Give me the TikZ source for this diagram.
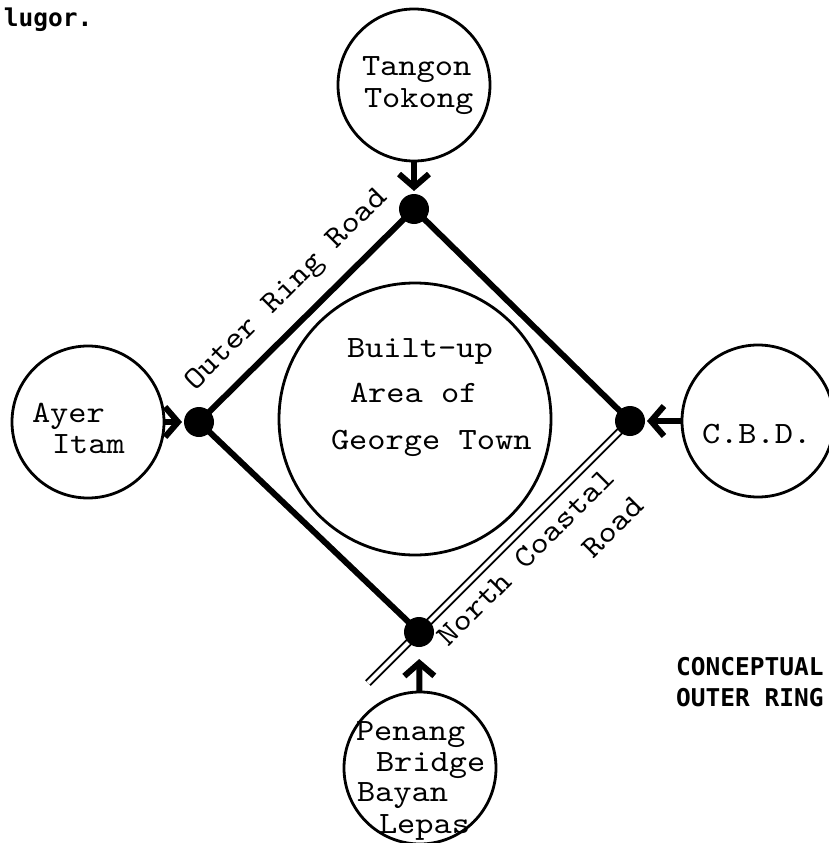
\documentclass[tikz,border=0pt]{standalone}
\usepackage{fontspec}
\newfontfamily\typefont[Extension=.otf, FakeStretch=1.12]{lmmono10-regular}
\newfontfamily\stampfont{DejaVu Sans Mono}
\usetikzlibrary{arrows.meta,backgrounds}
\begin{document}
\begin{tikzpicture}[x=1pt,y=-1pt,
  every node/.style={inner sep=0pt, outer sep=0pt},
  place/.style={circle, draw, line width=2.8pt, minimum size=152pt},
  junction/.style={circle, fill, minimum size=30pt},
  road/.style={line width=6pt, line join=round},
  coast/.style={line width=1.8pt, double=white, double distance=4.2pt},
  feed/.style={line width=6pt, -{Straight Barb[length=13pt,width=30pt]}},
  txt/.style={font=\typefont\fontsize{31}{31}\selectfont, anchor=base west},
  stamp/.style={font=\stampfont\bfseries\fontsize{24.5}{30}\selectfont, anchor=base west}]

\useasboundingbox (0,0) rectangle (829,843);

% places
\node[place] (tt) at (414,85) {};
\node[place] (ai) at (88,422) {};
\node[place] (cbd) at (758,421) {};
\node[place] (pb) at (420,768) {};
\node[place, minimum size=272pt] (gt) at (415,419) {};

% junctions
\node[junction] (dt) at (414,209) {};
\node[junction] (dl) at (199,422) {};
\node[junction] (dr) at (630,421) {};
\node[junction] (db) at (419,632) {};
\coordinate (ce) at (368,683);

\begin{scope}[on background layer]
  \draw[road] (dl.center) -- (dt.center) -- (dr.center);
  \draw[road] (dl.center) -- (db.center);
  \draw[coast] (dr.center) -- (ce);
\end{scope}

% feeder arrows
\draw[feed, shorten >=3pt] (tt) -- (dt);
\draw[feed, shorten >=2pt] (ai) -- (dl);
\draw[feed, shorten >=2pt] (cbd) -- (dr);
\draw[feed, shorten >=12pt] (pb) -- (db);

% texts in places
\node[txt] (tta) at (362,76) {Tangon};
\node[txt] (ttb) at (364,107) {Tokong};
\node[txt] (aia) at (32,422) {Ayer};
\node[txt] (aib) at (52,453) {Itam};
\node[txt] (cbda) at (702,443) {C.B.D.};
\node[txt] (gta) at (347,357) {Built-up};
\node[txt] (gtb) at (350,402) {Area of};
\node[txt] (gtc) at (331,449) {George Town};
\node[txt] (pba) at (356,740) {Penang};
\node[txt] (pbb) at (376,771) {Bridge};
\node[txt] (pbc) at (357,801) {Bayan};
\node[txt] (pbd) at (379,833) {Lepas};

% road labels
\node[txt, rotate=45] (lor) at (195,391.6) {Outer Ring Road};
\node[txt, anchor=base east, rotate=45] (lnc) at (616,480) {North Coastal};
\node[txt, anchor=base east, rotate=45] (lnr) at (645,508) {Road};

% stamped texts
\node[stamp] (lug) at (4,27) {lugor.};
\node[stamp] (con) at (676,675) {CONCEPTUAL};
\node[stamp] (our) at (676,706) {OUTER RING};
\end{tikzpicture}
\end{document}
